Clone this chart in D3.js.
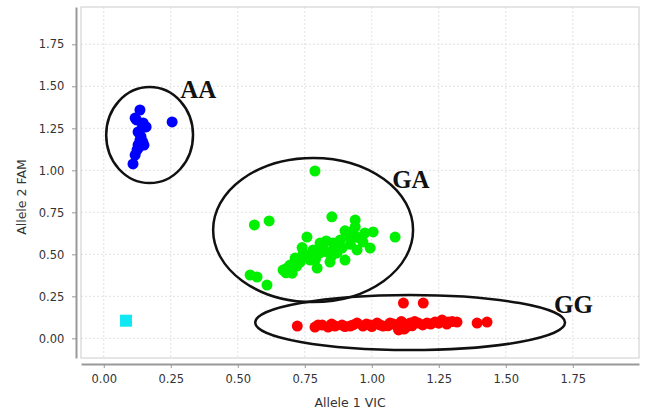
<!DOCTYPE html>
<html lang="en">
<head>
<meta charset="utf-8">
<title>Allelic discrimination plot</title>
<script src="https://cdn.jsdelivr.net/npm/d3@7"></script>
<style>
  body { margin: 0; background: #fff; }
  .axis text { font-family: "DejaVu Sans", sans-serif; font-size: 11.5px; fill: #333; }
  .axis path, .axis line { stroke: #999; }
  .grid line { stroke: #e2e2e2; stroke-dasharray: 2,2; }
  .label { font-family: "DejaVu Sans", sans-serif; font-size: 12.5px; fill: #333; }
  .cluster { font-family: "Liberation Serif", "Times New Roman", serif; font-weight: bold; font-size: 25px; fill: #111; }
</style>
</head>
<body>
<div id="chart"></div>
<script>
// tick values on both axes
var xTicks = [0, 0.25, 0.5, 0.75, 1.0, 1.25, 1.5, 1.75];
var yTicks = [0, 0.25, 0.5, 0.75, 1.0, 1.25, 1.5, 1.75];

// AA cluster (blue)
var aaPoints = [[0.135,1.359],[0.117,1.311],[0.147,1.282],[0.158,1.258],[0.143,1.252],[0.128,1.228],
  [0.255,1.288],[0.135,1.180],[0.128,1.151],[0.124,1.121],[0.117,1.091],[0.109,1.038],[0.139,1.200],
  [0.130,1.135],[0.150,1.150],[0.145,1.170],[0.122,1.300]];

// GA cluster (green)
var gaPoints = [[0.562,0.675],[0.617,0.699],[0.851,0.723],[0.938,0.704],[1.005,0.633],[1.087,0.603],
  [0.938,0.663],[0.907,0.633],[0.758,0.603],[0.994,0.537],[0.967,0.573],[0.945,0.526],[0.900,0.466],
  [0.796,0.418],[0.844,0.454],[0.684,0.418],[0.703,0.388],[0.669,0.406],[0.714,0.478],[0.744,0.508],
  [0.781,0.526],[0.818,0.544],[0.856,0.567],[0.882,0.585],[0.907,0.615],[0.919,0.597],[0.807,0.508],
  [0.833,0.514],[0.770,0.466],[0.733,0.454],[0.807,0.567],[0.546,0.377],[0.572,0.365],[0.609,0.317],
  [0.788,0.996],[0.695,0.436],[0.870,0.508],[0.889,0.537],[0.974,0.627],[0.760,0.490],[0.790,0.470],
  [0.850,0.490],[0.860,0.540],[0.830,0.580],[0.920,0.560],[0.950,0.600],[0.720,0.430],[0.680,0.390],
  [0.740,0.540],[0.900,0.640],[0.930,0.640]];

// GG cluster (red)
var ggPoints = [[0.722,0.073],[0.788,0.067],[0.815,0.079],[0.837,0.067],[0.863,0.073],[0.889,0.079],
  [0.919,0.073],[0.945,0.091],[0.967,0.073],[0.994,0.079],[1.020,0.091],[1.042,0.073],[1.068,0.091],
  [1.094,0.079],[1.118,0.210],[1.125,0.061],[1.117,0.091],[1.192,0.210],[1.143,0.091],[1.173,0.091],
  [1.206,0.091],[1.236,0.097],[1.262,0.109],[1.285,0.097],[1.318,0.097],[1.393,0.091],[1.430,0.097],
  [0.800,0.080],[0.850,0.085],[0.900,0.070],[0.930,0.080],[0.980,0.085],[1.000,0.070],[1.030,0.080],
  [1.060,0.075],[1.080,0.085],[1.100,0.070],[1.110,0.100],[1.130,0.080],[1.150,0.075],[1.160,0.100],
  [1.190,0.080],[1.220,0.085],[1.250,0.090],[1.280,0.085],[1.300,0.100],[1.100,0.050],[1.120,0.055]];

// no template control (cyan square)
var ntcPoints = [[0.083,0.105]];

// cluster ellipses: name, centre x, centre y, radius x, radius y (data units)
var clusterNames = ["AA", "GA", "GG"];
var ellipseCx = [0.171, 0.781, 1.143];
var ellipseCy = [1.21, 0.645, 0.094];
var ellipseRx = [0.162, 0.373, 0.578];
var ellipseRy = [0.286, 0.429, 0.164];
var labelX = [0.285, 1.076, 1.68];
var labelY = [1.43, 0.895, 0.151];

var W = 645, H = 414;
var box = {left: 81, right: 639, top: 7, bottom: 358};

var svg = d3.select("#chart").append("svg")
  .attr("width", W).attr("height", H);

var x = d3.scaleLinear().domain([-0.085, 1.997]).range([box.left, box.right]);
var y = d3.scaleLinear().domain([-0.117, 1.972]).range([box.bottom, box.top]);

// grid
var grid = svg.append("g").attr("class", "grid");
grid.selectAll(".gx").data(xTicks).enter().append("line")
  .attr("x1", d => x(d)).attr("x2", d => x(d))
  .attr("y1", box.top).attr("y2", box.bottom);
grid.selectAll(".gy").data(yTicks).enter().append("line")
  .attr("x1", box.left).attr("x2", box.right)
  .attr("y1", d => y(d)).attr("y2", d => y(d));

// plot frame
svg.append("rect")
  .attr("x", box.left).attr("y", box.top)
  .attr("width", box.right - box.left).attr("height", box.bottom - box.top)
  .attr("fill", "none").attr("stroke", "#ccc");

// axes, offset from the frame
var xAxis = svg.append("g").attr("class", "axis")
  .attr("transform", "translate(0,364)")
  .call(d3.axisBottom(x).tickValues(xTicks).tickSize(4).tickSizeOuter(0).tickFormat(d3.format(".2f")));
xAxis.select(".domain").attr("stroke-width", 2);
xAxis.selectAll("text").attr("dy", "1.05em");

var yAxis = svg.append("g").attr("class", "axis")
  .attr("transform", "translate(76,0)")
  .call(d3.axisLeft(y).tickValues(yTicks).tickSize(4).tickSizeOuter(0).tickFormat(d3.format(".2f")));
yAxis.select(".domain").attr("stroke-width", 2);
yAxis.selectAll("text").attr("dx", "-0.4em");

// axis labels
svg.append("text").attr("class", "label")
  .attr("x", 350).attr("y", 407)
  .attr("text-anchor", "middle").text("Allele 1 VIC");
svg.append("text").attr("class", "label")
  .attr("transform", "translate(26," + 197 + ") rotate(-90)")
  .attr("text-anchor", "middle").text("Allele 2 FAM");

// points
function dots(data, color) {
  svg.append("g").selectAll("circle").data(data).enter().append("circle")
    .attr("cx", d => x(d[0])).attr("cy", d => y(d[1]))
    .attr("r", 5.5).attr("fill", color);
}
dots(aaPoints, "#0000ff");
dots(gaPoints, "#00f000");
dots(ggPoints, "#ff0000");

svg.append("g").selectAll("rect").data(ntcPoints).enter().append("rect")
  .attr("x", d => x(d[0]) - 6).attr("y", d => y(d[1]) - 6)
  .attr("width", 12).attr("height", 12).attr("fill", "#11e8f4");

// cluster ellipses and labels
clusterNames.forEach(function(name, i) {
  svg.append("ellipse")
    .attr("cx", x(ellipseCx[i])).attr("cy", y(ellipseCy[i]))
    .attr("rx", x(ellipseCx[i] + ellipseRx[i]) - x(ellipseCx[i]))
    .attr("ry", y(ellipseCy[i]) - y(ellipseCy[i] + ellipseRy[i]))
    .attr("fill", "none").attr("stroke", "#111").attr("stroke-width", 2.5);
  svg.append("text").attr("class", "cluster")
    .attr("x", x(labelX[i])).attr("y", y(labelY[i]))
    .text(name);
});
</script>
</body>
</html>
